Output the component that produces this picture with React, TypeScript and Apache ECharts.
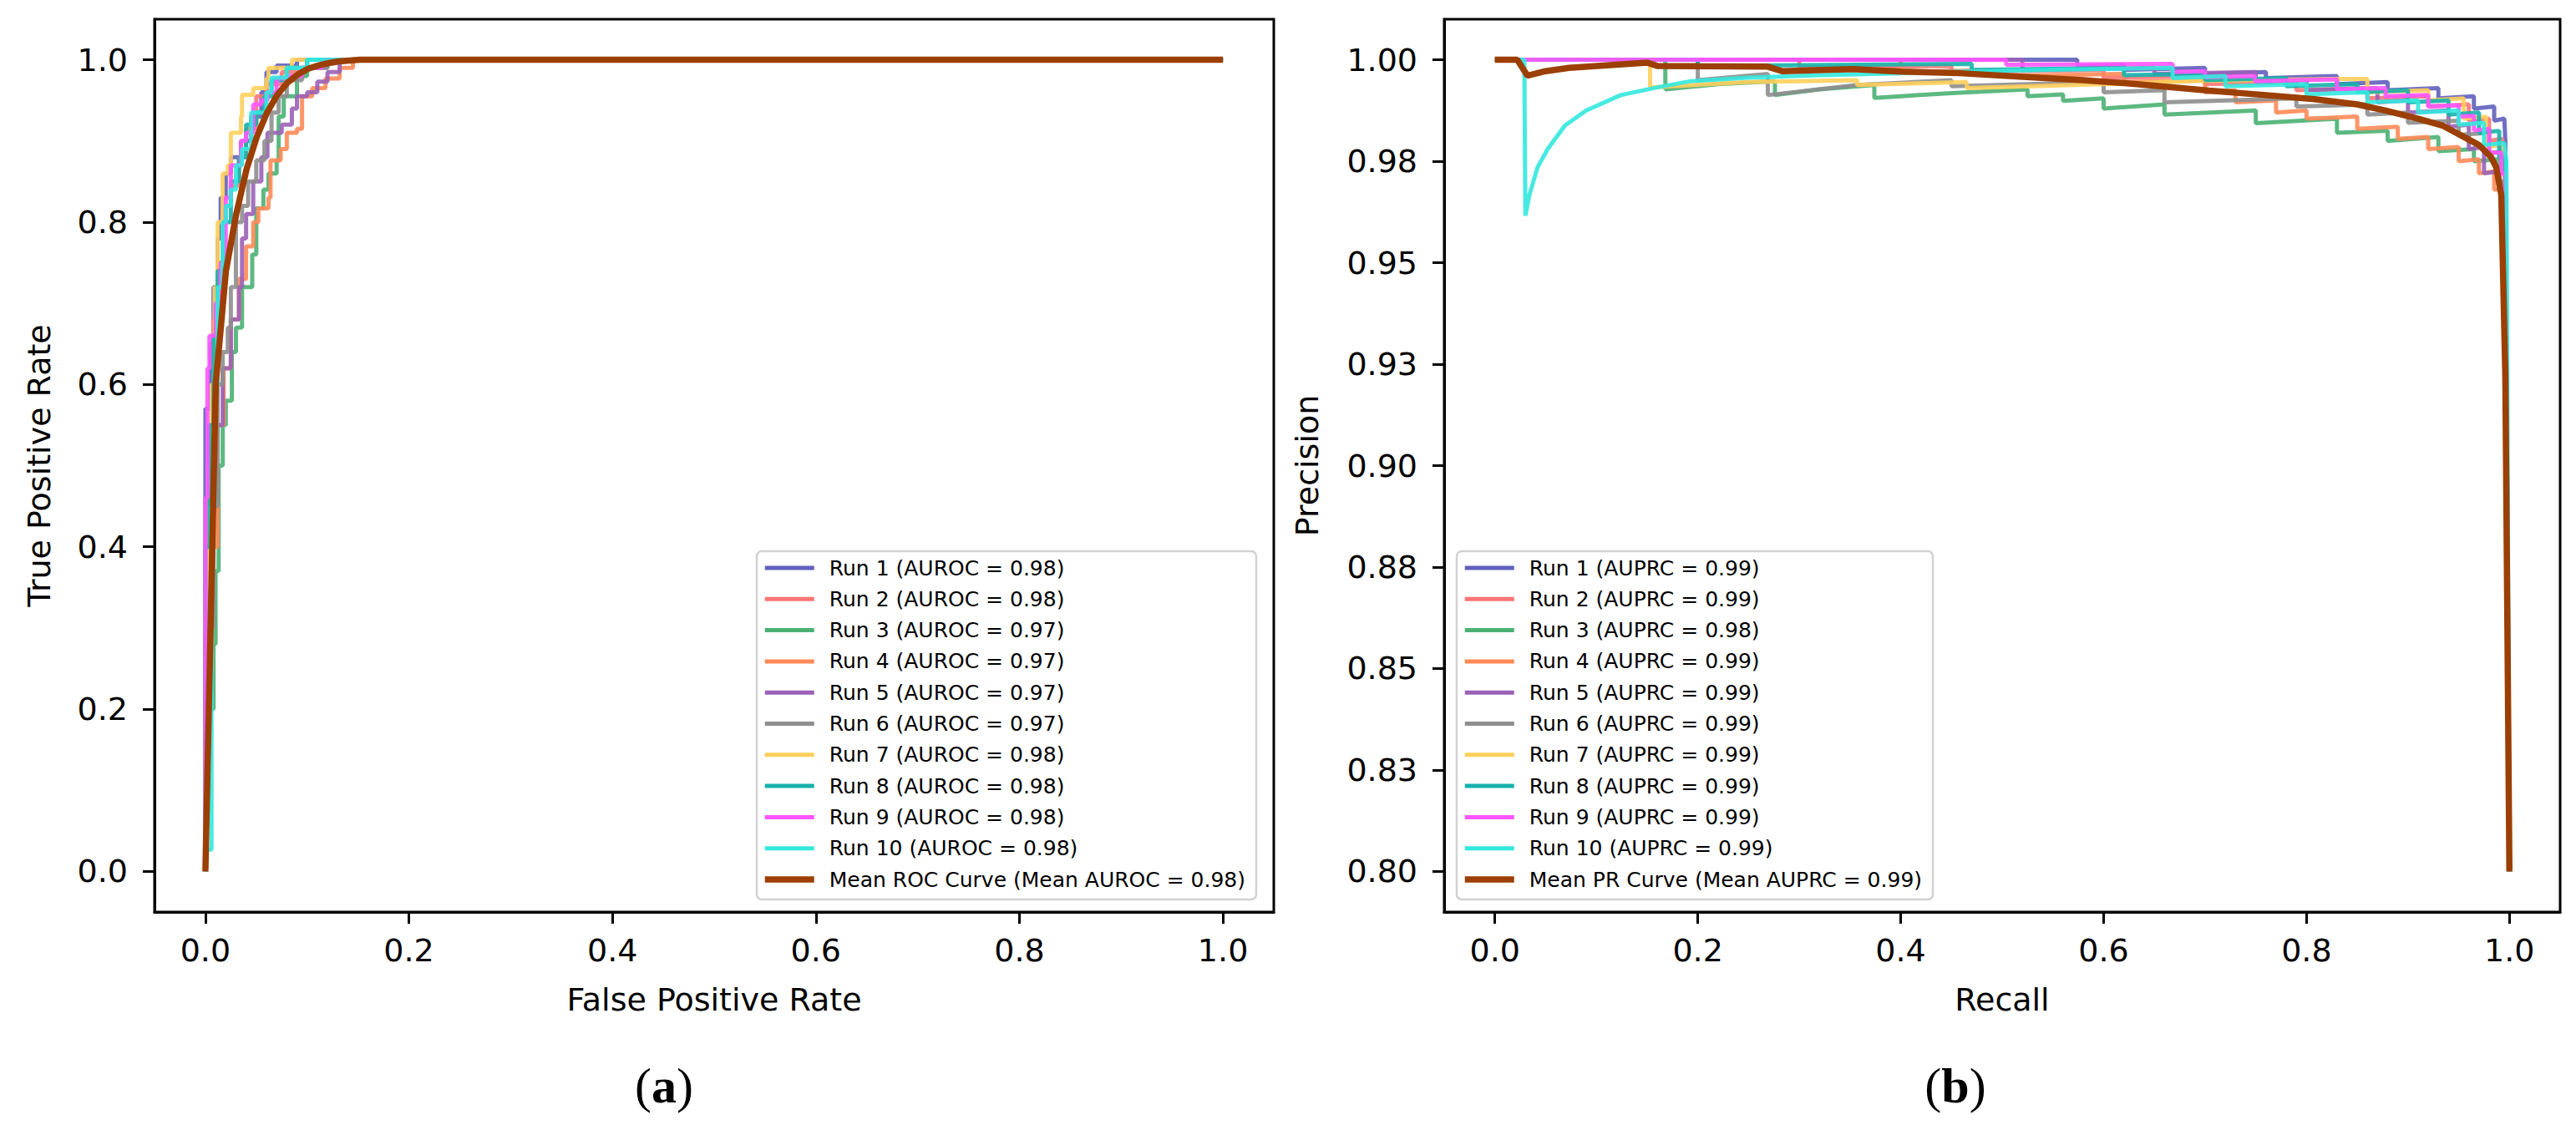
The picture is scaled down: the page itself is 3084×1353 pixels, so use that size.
import React, { useEffect, useRef } from "react";
import * as echarts from "echarts";

const RUN_NAMES = ["Run 1", "Run 2", "Run 3", "Run 4", "Run 5", "Run 6", "Run 7", "Run 8", "Run 9", "Run 10"];
const RUN_COLORS = ["#5F60BC", "#FF7575", "#4AB173", "#FF8A58", "#9B61B7", "#8E8E8E", "#FFCF5C", "#16B1AB", "#FF55FF", "#33E8DE"];
const MEAN_COLOR = "#9B3F05";

const AUROC = [0.98, 0.98, 0.97, 0.97, 0.97, 0.97, 0.98, 0.98, 0.98, 0.98];
const MEAN_AUROC = 0.98;
const AUPRC = [0.99, 0.99, 0.98, 0.99, 0.99, 0.99, 0.99, 0.99, 0.99, 0.99];
const MEAN_AUPRC = 0.99;

const AXIS_TICKS = [0, 0.2, 0.4, 0.6, 0.8, 1.0];
const PR_Y_TICKS = [0.8, 0.825, 0.85, 0.875, 0.9, 0.925, 0.95, 0.975, 1.0];
const PR_Y_LABELS = ["0.80", "0.83", "0.85", "0.88", "0.90", "0.93", "0.95", "0.98", "1.00"];

// ROC curves: [FPR, TPR] corner points
const ROC_RUN_1 = [[0, 0], [0, 0.57], [0.005, 0.65], [0.008, 0.72], [0.012, 0.78], [0.015, 0.83], [0.02, 0.86], [0.025, 0.88], [0.035, 0.9], [0.045, 0.93], [0.055, 0.96], [0.06, 0.985], [0.07, 0.993], [0.09, 1.0], [1, 1]];
const ROC_RUN_2 = [[0, 0], [0, 0.35], [0.004, 0.55], [0.008, 0.68], [0.012, 0.75], [0.017, 0.82], [0.025, 0.845], [0.033, 0.88], [0.04, 0.915], [0.05, 0.955], [0.06, 0.97], [0.075, 0.985], [0.1, 1.0], [1, 1]];
const ROC_RUN_3 = [[0, 0], [0, 0.2], [0.008, 0.28], [0.01, 0.37], [0.013, 0.5], [0.017, 0.55], [0.02, 0.58], [0.026, 0.64], [0.03, 0.67], [0.036, 0.72], [0.046, 0.76], [0.05, 0.817], [0.057, 0.84], [0.062, 0.86], [0.07, 0.876], [0.072, 0.93], [0.077, 0.955], [0.09, 0.98], [0.1, 0.99], [0.12, 1.0], [1, 1]];
const ROC_RUN_4 = [[0, 0], [0, 0.25], [0.006, 0.4], [0.012, 0.55], [0.018, 0.62], [0.025, 0.68], [0.033, 0.73], [0.04, 0.77], [0.047, 0.8], [0.052, 0.817], [0.062, 0.83], [0.064, 0.876], [0.074, 0.89], [0.08, 0.91], [0.09, 0.915], [0.095, 0.955], [0.105, 0.965], [0.118, 0.977], [0.132, 0.99], [0.145, 1.0], [1, 1]];
const ROC_RUN_5 = [[0, 0], [0, 0.3], [0.005, 0.45], [0.01, 0.55], [0.017, 0.62], [0.025, 0.68], [0.033, 0.72], [0.036, 0.78], [0.04, 0.81], [0.047, 0.85], [0.055, 0.88], [0.061, 0.91], [0.075, 0.92], [0.085, 0.94], [0.09, 0.955], [0.1, 0.96], [0.11, 0.973], [0.12, 0.985], [0.132, 1.0], [1, 1]];
const ROC_RUN_6 = [[0, 0], [0, 0.3], [0.008, 0.45], [0.012, 0.6], [0.017, 0.64], [0.022, 0.67], [0.025, 0.72], [0.03, 0.8], [0.036, 0.82], [0.042, 0.85], [0.05, 0.876], [0.058, 0.9], [0.065, 0.935], [0.072, 0.955], [0.08, 0.975], [0.095, 0.99], [0.12, 1.0], [1, 1]];
const ROC_RUN_7 = [[0, 0], [0, 0.35], [0.003, 0.5], [0.006, 0.6], [0.009, 0.72], [0.012, 0.8], [0.017, 0.83], [0.017, 0.86], [0.022, 0.87], [0.025, 0.91], [0.035, 0.93], [0.036, 0.957], [0.047, 0.965], [0.06, 0.977], [0.062, 0.99], [0.085, 1.0], [1, 1]];
const ROC_RUN_8 = [[0, 0], [0, 0.4], [0.004, 0.55], [0.008, 0.66], [0.012, 0.74], [0.018, 0.8], [0.025, 0.85], [0.033, 0.88], [0.04, 0.92], [0.05, 0.935], [0.058, 0.955], [0.065, 0.975], [0.08, 0.99], [0.1, 1.0], [1, 1]];
const ROC_RUN_9 = [[0, 0], [0, 0.46], [0.002, 0.62], [0.004, 0.66], [0.01, 0.7], [0.015, 0.75], [0.02, 0.83], [0.025, 0.87], [0.035, 0.9], [0.04, 0.91], [0.047, 0.945], [0.055, 0.95], [0.061, 0.96], [0.07, 0.977], [0.083, 0.98], [0.095, 0.99], [0.115, 1.0], [1, 1]];
const ROC_RUN_10 = [[0, 0], [0, 0.027], [0.006, 0.027], [0.006, 0.45], [0.009, 0.6], [0.012, 0.72], [0.017, 0.8], [0.02, 0.82], [0.025, 0.84], [0.03, 0.87], [0.036, 0.89], [0.045, 0.935], [0.06, 0.96], [0.065, 0.978], [0.08, 0.99], [0.1, 1.0], [1, 1]];
const ROC_RUNS = [ROC_RUN_1, ROC_RUN_2, ROC_RUN_3, ROC_RUN_4, ROC_RUN_5, ROC_RUN_6, ROC_RUN_7, ROC_RUN_8, ROC_RUN_9, ROC_RUN_10];

const ROC_MEAN_FPR = [0, 0.0101, 0.0202, 0.0303, 0.0404, 0.0505, 0.0606, 0.0707, 0.0808, 0.0909, 0.101, 0.1111, 0.1212, 0.1313, 0.1414, 0.1515, 1.0];
const ROC_MEAN_TPR = [0, 0.6, 0.74, 0.81, 0.865, 0.905, 0.935, 0.957, 0.972, 0.982, 0.989, 0.993, 0.996, 0.998, 0.999, 1.0, 1.0];

// PR curves: [Recall, Precision]
const PR_RUN_1 = [[0, 1], [0.574, 1], [0.574, 0.9985], [0.62, 0.9988], [0.62, 0.9975], [0.7, 0.998], [0.7, 0.9965], [0.76, 0.997], [0.76, 0.9955], [0.83, 0.996], [0.83, 0.994], [0.88, 0.9945], [0.88, 0.9925], [0.93, 0.993], [0.93, 0.9905], [0.965, 0.991], [0.965, 0.988], [0.985, 0.9885], [0.985, 0.985], [0.995, 0.9855], [0.996, 0.98], [1, 0.8]];
const PR_RUN_2 = [[0, 1], [0.3, 1], [0.3, 0.998], [0.45, 0.9985], [0.45, 0.997], [0.6, 0.9975], [0.6, 0.9955], [0.7, 0.996], [0.7, 0.994], [0.79, 0.9945], [0.79, 0.9925], [0.86, 0.993], [0.86, 0.9905], [0.92, 0.991], [0.92, 0.9885], [0.96, 0.989], [0.96, 0.985], [0.98, 0.9855], [0.98, 0.98], [0.993, 0.9805], [0.993, 0.972], [0.996, 0.972], [1, 0.8]];
const PR_RUN_3 = [[0, 1], [0.168, 1], [0.168, 0.9927], [0.22, 0.994], [0.276, 0.9947], [0.276, 0.9913], [0.32, 0.9927], [0.374, 0.9938], [0.374, 0.9906], [0.45, 0.9918], [0.525, 0.9927], [0.525, 0.991], [0.56, 0.9915], [0.56, 0.9899], [0.6, 0.9905], [0.6, 0.988], [0.66, 0.989], [0.66, 0.9865], [0.75, 0.9875], [0.75, 0.9844], [0.83, 0.9855], [0.83, 0.982], [0.88, 0.9825], [0.88, 0.98], [0.93, 0.981], [0.93, 0.9775], [0.965, 0.978], [0.965, 0.975], [0.99, 0.9755], [0.99, 0.97], [0.995, 0.97], [1, 0.8]];
const PR_RUN_4 = [[0, 1], [0.4, 1], [0.4, 0.997], [0.5, 0.9975], [0.5, 0.996], [0.62, 0.9965], [0.62, 0.9945], [0.7, 0.995], [0.7, 0.992], [0.73, 0.9925], [0.73, 0.9895], [0.77, 0.99], [0.77, 0.987], [0.8, 0.9875], [0.8, 0.9855], [0.85, 0.986], [0.85, 0.983], [0.89, 0.9835], [0.89, 0.9805], [0.92, 0.981], [0.92, 0.978], [0.95, 0.9785], [0.95, 0.975], [0.97, 0.9755], [0.97, 0.972], [0.985, 0.9725], [0.985, 0.968], [0.995, 0.968], [1, 0.8]];
const PR_RUN_5 = [[0, 1], [0.52, 1], [0.52, 0.9975], [0.65, 0.998], [0.65, 0.9965], [0.75, 0.997], [0.75, 0.9945], [0.8, 0.995], [0.8, 0.9925], [0.87, 0.993], [0.87, 0.9895], [0.9, 0.99], [0.9, 0.987], [0.94, 0.9875], [0.94, 0.9835], [0.96, 0.984], [0.96, 0.978], [0.975, 0.9785], [0.975, 0.972], [0.99, 0.9725], [0.99, 0.968], [0.995, 0.968], [1, 0.8]];
const PR_RUN_6 = [[0, 1], [0.2, 1], [0.2, 0.995], [0.269, 0.9965], [0.269, 0.9913], [0.357, 0.9938], [0.45, 0.995], [0.45, 0.9935], [0.6, 0.9945], [0.6, 0.992], [0.66, 0.9925], [0.66, 0.9895], [0.79, 0.9905], [0.79, 0.9885], [0.86, 0.989], [0.86, 0.9865], [0.9, 0.987], [0.9, 0.9845], [0.95, 0.985], [0.95, 0.9815], [0.98, 0.982], [0.98, 0.977], [0.995, 0.9775], [1, 0.8]];
const PR_RUN_7 = [[0, 1], [0.153, 1], [0.153, 0.9932], [0.25, 0.9945], [0.357, 0.995], [0.357, 0.9938], [0.465, 0.9945], [0.465, 0.993], [0.6, 0.994], [0.7, 0.9948], [0.83, 0.9953], [0.86, 0.9953], [0.86, 0.992], [0.92, 0.9925], [0.92, 0.99], [0.955, 0.9905], [0.955, 0.9855], [0.977, 0.986], [0.977, 0.9785], [0.994, 0.979], [0.996, 0.97], [1, 0.8]];
const PR_RUN_8 = [[0, 1], [0.2, 1], [0.2, 0.9985], [0.47, 0.999], [0.47, 0.9975], [0.62, 0.998], [0.62, 0.9962], [0.7, 0.9965], [0.7, 0.995], [0.78, 0.9955], [0.78, 0.9935], [0.85, 0.994], [0.85, 0.992], [0.9, 0.9925], [0.9, 0.9895], [0.94, 0.99], [0.94, 0.9865], [0.97, 0.987], [0.97, 0.982], [0.99, 0.9825], [0.99, 0.976], [0.996, 0.976], [1, 0.8]];
const PR_RUN_9 = [[0, 1], [0.504, 1], [0.504, 0.9988], [0.668, 0.999], [0.668, 0.997], [0.7, 0.9972], [0.7, 0.9957], [0.749, 0.996], [0.749, 0.9947], [0.83, 0.9952], [0.83, 0.9927], [0.878, 0.993], [0.878, 0.991], [0.92, 0.9913], [0.92, 0.9885], [0.95, 0.9888], [0.95, 0.986], [0.965, 0.9862], [0.965, 0.9826], [0.98, 0.983], [0.98, 0.977], [0.992, 0.9772], [0.992, 0.972], [0.996, 0.972], [1, 0.8]];
const PR_RUN_10 = [[0, 1], [0.029, 1], [0.03, 0.9616], [0.034, 0.9667], [0.042, 0.9735], [0.052, 0.978], [0.069, 0.9838], [0.09, 0.9875], [0.124, 0.9913], [0.16, 0.9932], [0.192, 0.9947], [0.25, 0.9956], [0.32, 0.9962], [0.4, 0.9967], [0.458, 0.9971], [0.563, 0.9976], [0.668, 0.998], [0.668, 0.9955], [0.72, 0.996], [0.72, 0.9935], [0.8, 0.994], [0.8, 0.9915], [0.86, 0.992], [0.86, 0.9895], [0.91, 0.99], [0.91, 0.987], [0.95, 0.9875], [0.95, 0.984], [0.975, 0.9845], [0.975, 0.979], [0.995, 0.9795], [0.997, 0.975], [1, 0.8]];
const PR_RUNS = [PR_RUN_1, PR_RUN_2, PR_RUN_3, PR_RUN_4, PR_RUN_5, PR_RUN_6, PR_RUN_7, PR_RUN_8, PR_RUN_9, PR_RUN_10];

const PR_MEAN_RECALL = [0, 0.022, 0.032, 0.05, 0.073, 0.15, 0.16, 0.2, 0.269, 0.283, 0.353, 0.4, 0.458, 0.528, 0.58, 0.633, 0.704, 0.76, 0.808, 0.85, 0.878, 0.91, 0.934, 0.955, 0.97, 0.982, 0.987, 0.992, 0.996, 1.0];
const PR_MEAN_PRECISION = [1.0, 1.0, 0.9961, 0.9972, 0.998, 0.9993, 0.9985, 0.9984, 0.9983, 0.9972, 0.9977, 0.9971, 0.9967, 0.9957, 0.995, 0.994, 0.9924, 0.9913, 0.9903, 0.989, 0.9875, 0.9855, 0.9838, 0.981, 0.979, 0.976, 0.9735, 0.9667, 0.922, 0.8];

const FONT = "DejaVu Sans";
const SERIF = "Liberation Serif";
const RUN_WIDTH = 5;
const MEAN_WIDTH = 7.5;

function buildOption() {
  const rocNames = RUN_NAMES.map((r, i) => `${r} (AUROC = ${AUROC[i].toFixed(2)})`);
  const prNames = RUN_NAMES.map((r, i) => `${r} (AUPRC = ${AUPRC[i].toFixed(2)})`);
  const rocMeanName = `Mean ROC Curve (Mean AUROC = ${MEAN_AUROC.toFixed(2)})`;
  const prMeanName = `Mean PR Curve (Mean AUPRC = ${MEAN_AUPRC.toFixed(2)})`;

  const tickStyle = { show: true, inside: false, length: 14, lineStyle: { color: "#000", width: 3 } };
  const labelFont = { fontSize: 38, fontFamily: FONT, color: "#000" };

  const makeX = (gridIndex: number, name: string) => ({
    gridIndex,
    type: "value",
    min: -0.05,
    max: 1.05,
    name,
    nameLocation: "middle",
    nameGap: 86,
    nameTextStyle: { ...labelFont },
    axisLine: { show: true, onZero: false, lineStyle: { color: "#000", width: 3 } },
    axisTick: { ...tickStyle, customValues: AXIS_TICKS },
    axisLabel: { ...labelFont, margin: 27, customValues: AXIS_TICKS, formatter: (v: number) => v.toFixed(1) },
    splitLine: { show: false },
  });

  const legendItems = (names: string[], meanName: string) => [
    ...names.map((n, i) => ({ name: n, itemStyle: { opacity: 0 }, lineStyle: { width: RUN_WIDTH, color: RUN_COLORS[i], opacity: 1 } })),
    { name: meanName, itemStyle: { opacity: 0 }, lineStyle: { width: MEAN_WIDTH, color: MEAN_COLOR, opacity: 1 } },
  ];

  const legendCommon = {
    orient: "vertical",
    top: 660,
    itemWidth: 59,
    itemHeight: 14,
    itemGap: 9.3,
    padding: [6, 13, 10, 6],
    borderColor: "#d2d2d2",
    borderWidth: 2.5,
    borderRadius: 6,
    backgroundColor: "rgba(255,255,255,0.8)",
    selectedMode: false,
    itemStyle: { opacity: 0 },
    textStyle: { fontSize: 25, fontFamily: FONT, color: "#000", lineHeight: 28, padding: [0, 0, 0, 13] },
  };

  const series: any[] = [];
  ROC_RUNS.forEach((d, i) => {
    series.push({
      type: "line",
      name: rocNames[i],
      xAxisIndex: 0,
      yAxisIndex: 0,
      data: d,
      step: "end",
      symbol: "none",
      showSymbol: false,
      lineStyle: { color: RUN_COLORS[i], width: RUN_WIDTH, opacity: 0.9 },
      itemStyle: { color: RUN_COLORS[i] },
      z: 2,
    });
  });
  series.push({
    type: "line",
    name: rocMeanName,
    xAxisIndex: 0,
    yAxisIndex: 0,
    data: ROC_MEAN_FPR.map((f, i) => [f, ROC_MEAN_TPR[i]]),
    symbol: "none",
    showSymbol: false,
    lineStyle: { color: MEAN_COLOR, width: MEAN_WIDTH },
    itemStyle: { color: MEAN_COLOR },
    z: 3,
  });
  PR_RUNS.forEach((d, i) => {
    series.push({
      type: "line",
      name: prNames[i],
      xAxisIndex: 1,
      yAxisIndex: 1,
      data: d,
      symbol: "none",
      showSymbol: false,
      lineStyle: { color: RUN_COLORS[i], width: RUN_WIDTH, opacity: 0.9 },
      itemStyle: { color: RUN_COLORS[i] },
      z: 2,
    });
  });
  series.push({
    type: "line",
    name: prMeanName,
    xAxisIndex: 1,
    yAxisIndex: 1,
    data: PR_MEAN_RECALL.map((r, i) => [r, PR_MEAN_PRECISION[i]]),
    symbol: "none",
    showSymbol: false,
    lineStyle: { color: MEAN_COLOR, width: MEAN_WIDTH },
    itemStyle: { color: MEAN_COLOR },
    z: 3,
  });

  const captionRich = {
    n: { fontSize: 60, fontFamily: SERIF, fill: "#000" },
    b: { fontSize: 60, fontFamily: SERIF, fontWeight: "bold", fill: "#000" },
  };

  return {
    animation: false,
    backgroundColor: "#fff",
    grid: [
      { left: 185, top: 23, width: 1340, height: 1069, show: true, borderColor: "#000", borderWidth: 3, backgroundColor: "transparent" },
      { left: 1729, top: 23, width: 1336, height: 1069, show: true, borderColor: "#000", borderWidth: 3, backgroundColor: "transparent" },
    ],
    xAxis: [makeX(0, "False Positive Rate"), makeX(1, "Recall")],
    yAxis: [
      {
        gridIndex: 0,
        type: "value",
        min: -0.05,
        max: 1.05,
        name: "True Positive Rate",
        nameLocation: "middle",
        nameGap: 119,
        nameTextStyle: { ...labelFont },
        axisLine: { show: true, onZero: false, lineStyle: { color: "#000", width: 3 } },
        axisTick: { ...tickStyle, customValues: AXIS_TICKS },
        axisLabel: { ...labelFont, margin: 32, customValues: AXIS_TICKS, formatter: (v: number) => v.toFixed(1) },
        splitLine: { show: false },
      },
      {
        gridIndex: 1,
        type: "value",
        min: 0.79,
        max: 1.01,
        name: "Precision",
        nameLocation: "middle",
        nameGap: 145,
        nameTextStyle: { ...labelFont },
        axisLine: { show: true, onZero: false, lineStyle: { color: "#000", width: 3 } },
        axisTick: { ...tickStyle, customValues: PR_Y_TICKS },
        axisLabel: {
          ...labelFont,
          margin: 32,
          customValues: PR_Y_TICKS,
          formatter: (v: number) => {
            const i = PR_Y_TICKS.findIndex((t) => Math.abs(t - v) < 1e-6);
            return i >= 0 ? PR_Y_LABELS[i] : "";
          },
        },
        splitLine: { show: false },
      },
    ],
    legend: [
      { ...legendCommon, left: 906, data: legendItems(rocNames, rocMeanName) },
      { ...legendCommon, left: 1744, data: legendItems(prNames, prMeanName) },
    ],
    graphic: [
      { type: "text", x: 795, y: 1300, style: { text: "{n|(}{b|a}{n|)}", rich: captionRich, align: "center", verticalAlign: "middle", fill: "#000" } },
      { type: "text", x: 2341, y: 1300, style: { text: "{n|(}{b|b}{n|)}", rich: captionRich, align: "center", verticalAlign: "middle", fill: "#000" } },
    ],
    series,
  };
}

export default function App() {
  const ref = useRef<HTMLDivElement>(null);
  useEffect(() => {
    if (!ref.current) return;
    const chart = echarts.init(ref.current, null, { renderer: "svg" });
    chart.setOption(buildOption() as any);
    return () => chart.dispose();
  }, []);
  return (
    <div
      ref={ref}
      style={{ position: "absolute", left: 0, top: 0, width: 3084, height: 1353, background: "#fff" }}
    />
  );
}
